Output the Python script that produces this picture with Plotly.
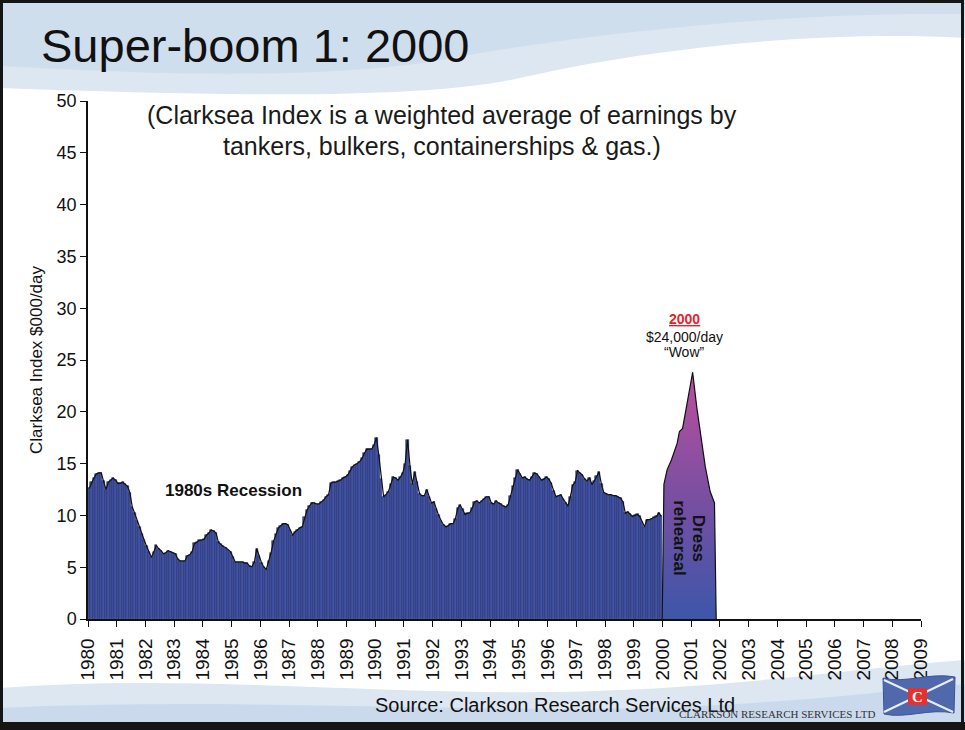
import plotly.graph_objects as go

# Clarksea Index, $000/day, monthly Jan 1980 - Dec 1999
clarksea_1980s = [
    12.6, 13.2, 13.6, 14.0, 14.1, 14.1, 13.3, 12.5, 13.2, 13.4, 13.6, 13.4,   # 1980
    13.1, 13.1, 13.2, 13.0, 12.8, 12.2, 10.8, 10.2, 9.5, 8.9, 8.2, 7.6,       # 1981
    7.0, 6.5, 5.95, 6.5, 7.1, 6.8, 6.6, 6.3, 6.4, 6.6, 6.5, 6.4,              # 1982
    6.3, 5.8, 5.6, 5.6, 5.6, 6.1, 6.2, 6.5, 7.3, 7.4, 7.6, 7.6,               # 1983
    7.7, 8.1, 8.3, 8.6, 8.5, 8.3, 7.4, 7.2, 7.0, 6.9, 6.7, 6.5,               # 1984
    6.0, 5.5, 5.5, 5.5, 5.5, 5.4, 5.4, 5.1, 5.05, 5.5, 6.8, 6.1,              # 1985
    5.4, 5.0, 4.8, 5.6, 6.4, 7.5, 8.2, 8.75, 9.0, 9.2, 9.2, 9.1,              # 1986
    8.6, 8.1, 8.4, 8.6, 8.8, 8.9, 9.8, 10.5, 10.9, 11.2, 11.2, 11.1,          # 1987
    11.1, 11.3, 11.5, 11.8, 12.0, 13.1, 13.2, 13.2, 13.3, 13.4, 13.6, 13.7,   # 1988
    13.9, 14.3, 14.7, 14.9, 15.0, 15.2, 15.5, 16.0, 16.4, 16.4, 16.4, 16.8,   # 1989
]
clarksea_1990s = [
    17.5, 15.8, 13.5, 11.8, 12.0, 12.3, 13.0, 13.7, 13.6, 13.4, 13.7, 14.1,   # 1990
    15.0, 17.3, 14.8, 13.0, 14.2, 13.2, 12.1, 11.9, 11.9, 12.5, 11.8, 11.2,   # 1991
    11.3, 10.6, 10.0, 9.5, 9.1, 8.9, 9.0, 9.2, 9.2, 9.7, 10.7, 11.0,          # 1992
    10.6, 10.1, 10.2, 10.25, 10.7, 11.3, 11.4, 11.2, 11.4, 11.6, 11.8, 11.8,  # 1993
    11.2, 11.1, 11.4, 11.2, 11.1, 10.9, 10.8, 11.0, 11.9, 12.8, 13.6, 14.4,   # 1994
    14.0, 13.6, 13.7, 13.5, 13.4, 13.7, 14.1, 14.0, 13.7, 13.4, 13.5, 13.7,   # 1995
    13.5, 13.1, 12.4, 11.8, 11.9, 12.0, 11.6, 11.2, 10.9, 11.8, 12.9, 13.2,   # 1996
    14.3, 14.1, 13.9, 13.5, 13.35, 13.6, 13.0, 13.3, 13.8, 14.2, 13.0, 12.2,  # 1997
    12.1, 12.0, 12.0, 11.9, 11.9, 11.8, 11.65, 11.3, 10.2, 10.35, 10.1, 9.9,  # 1998
    10.0, 10.1, 9.9, 9.4, 8.9, 9.6, 9.6, 9.7, 9.8, 9.9, 10.25, 9.9,           # 1999
]

# 2000-2001 boom ("dress rehearsal"), decimal year vs $000/day
boom_years = [1999.99, 2000.05, 2000.16, 2000.31, 2000.51, 2000.59, 2000.70, 2000.82,
              2000.94, 2001.05, 2001.20, 2001.35, 2001.49, 2001.66, 2001.81, 2001.87]
boom_values = [0, 13.0, 14.4, 15.35, 16.95, 18.1, 18.4, 20.2,
               22.1, 23.8, 20.3, 17.3, 14.7, 12.3, 11.2, 0]

year_ticks = list(range(1980, 2010))
year_labels = [str(y) for y in year_ticks]

peak_year_label = "2000"
peak_rate_label = "$24,000/day"
peak_comment = "\u201cWow\u201d"

FONT = "Liberation Sans, Arial, sans-serif"

values = clarksea_1980s + clarksea_1990s
month_x = [1980 + (i + 0.5) / 12 for i in range(len(values))]

fig = go.Figure()

# monthly bars (striped look)
fig.add_trace(go.Bar(
    x=month_x, y=values, width=1 / 12,
    marker=dict(color="#4053A6", line=dict(color="#232B68", width=0.6)),
    hoverinfo="skip", showlegend=False,
))
# black outline along the top of the bars
fig.add_trace(go.Scatter(
    x=month_x, y=values, mode="lines",
    line=dict(color="#111111", width=1.2),
    hoverinfo="skip", showlegend=False,
))
# 2000-01 boom, gradient filled
fig.add_trace(go.Scatter(
    x=boom_years, y=boom_values, mode="lines", fill="toself",
    fillgradient=dict(type="vertical",
                      colorscale=[[0, "#3C56A9"], [0.5, "#7A4FA1"], [1, "#BB4F9D"]]),
    line=dict(color="#111111", width=1.2),
    hoverinfo="skip", showlegend=False,
))

# page geometry helpers (pixel -> paper)
L, R, T, B = 88, 44, 101, 111
W, H = 965, 730
PW, PH = W - L - R, H - T - B


def px(x):
    return (x - L) / PW


def py(y):
    return (H - B - y) / PH


shapes = []
# header band
shapes.append(dict(
    type="path", xref="paper", yref="paper", layer="below", line=dict(width=0),
    fillcolor="#DCE7F2",
    path=(f"M {px(0)},{py(0)} L {px(965)},{py(0)} L {px(965)},{py(38)} "
          f"C {px(820)},{py(30)} {px(650)},{py(48)} {px(520)},{py(78)} "
          f"C {px(420)},{py(100)} {px(230)},{py(96)} {px(0)},{py(88)} Z"),
))
shapes.append(dict(
    type="path", xref="paper", yref="paper", layer="below", line=dict(width=0),
    fillcolor="rgba(196,215,234,0.55)",
    path=(f"M {px(0)},{py(0)} L {px(965)},{py(0)} L {px(965)},{py(14)} "
          f"C {px(800)},{py(12)} {px(600)},{py(30)} {px(430)},{py(62)} "
          f"C {px(300)},{py(80)} {px(150)},{py(74)} {px(0)},{py(66)} Z"),
))
# footer band
shapes.append(dict(
    type="path", xref="paper", yref="paper", layer="below", line=dict(width=0),
    fillcolor="#DCE7F2",
    path=(f"M {px(0)},{py(730)} L {px(0)},{py(688)} "
          f"C {px(200)},{py(672)} {px(420)},{py(700)} {px(620)},{py(690)} "
          f"C {px(760)},{py(684)} {px(860)},{py(668)} {px(965)},{py(660)} "
          f"L {px(965)},{py(730)} Z"),
))
shapes.append(dict(
    type="path", xref="paper", yref="paper", layer="below", line=dict(width=0),
    fillcolor="rgba(190,210,232,0.6)",
    path=(f"M {px(0)},{py(730)} L {px(0)},{py(708)} "
          f"C {px(250)},{py(696)} {px(500)},{py(716)} {px(700)},{py(706)} "
          f"C {px(820)},{py(700)} {px(900)},{py(690)} {px(965)},{py(684)} "
          f"L {px(965)},{py(730)} Z"),
))
# logo flag
shapes.append(dict(
    type="path", xref="paper", yref="paper", line=dict(color="#3C5398", width=1),
    fillcolor="#5069AD",
    path=(f"M {px(883)},{py(678)} C {px(905)},{py(684)} {px(930)},{py(672)} {px(955)},{py(677)} "
          f"L {px(954)},{py(713)} C {px(930)},{py(708)} {px(905)},{py(719)} {px(884)},{py(714)} Z"),
))
shapes.append(dict(type="line", xref="paper", yref="paper",
                   x0=px(884), y0=py(680), x1=px(953), y1=py(712),
                   line=dict(color="#E8EEF8", width=2)))
shapes.append(dict(type="line", xref="paper", yref="paper",
                   x0=px(884), y0=py(712), x1=px(953), y1=py(679),
                   line=dict(color="#E8EEF8", width=2)))
shapes.append(dict(type="rect", xref="paper", yref="paper",
                   x0=px(908), y0=py(705), x1=px(927), y1=py(688),
                   fillcolor="#E5322D", line=dict(width=0)))
# slide frame
shapes.append(dict(type="rect", xref="paper", yref="paper",
                   x0=px(1.5), y0=py(724), x1=px(962.5), y1=py(1.5),
                   line=dict(color="#151515", width=3)))
shapes.append(dict(type="rect", xref="paper", yref="paper",
                   x0=px(0), y0=py(730), x1=px(965), y1=py(722),
                   fillcolor="#151515", line=dict(width=0)))


def note(text, x, y, size, color="#111111", family=FONT, paper=False, **kw):
    ann = dict(text=text, x=x, y=y, showarrow=False, xanchor=kw.pop("xanchor", "center"),
               yanchor="middle", font=dict(family=family, size=size, color=color))
    if paper:
        ann.update(xref="paper", yref="paper")
    ann.update(kw)
    return ann


annotations = [
    note("Super-boom 1: 2000", px(39), py(45), 47, paper=True, xanchor="left"),
    note("(Clarksea Index is a weighted average of earnings by", px(442), py(115), 25,
         color="#1a1a1a", paper=True),
    note("tankers, bulkers, containerships &amp; gas.)", px(442), py(146), 25,
         color="#1a1a1a", paper=True),
    note("<b>1980s Recession</b>", 1985.06, 12.45, 17),
    note(f"<b><u>{peak_year_label}</u></b>", 2000.78, 28.96, 14, color="#E3252A"),
    note(peak_rate_label, 2000.78, 27.22, 14),
    note(peak_comment, 2000.78, 25.77, 14),
    note("<b>Dress</b>", 2001.25, 7.8, 17, textangle=90),
    note("<b>rehearsal</b>", 2000.61, 7.8, 17, textangle=90),
    note("Source: Clarkson Research Services Ltd", px(555), py(705), 20, paper=True),
    note("CLARKSON RESEARCH SERVICES LTD", px(777), py(714), 11, color="#333333",
         family="Liberation Serif, Times New Roman, serif", paper=True),
    note("<b>C</b>", px(917.5), py(696.5), 15, color="#FFFFFF",
         family="Liberation Serif, Times New Roman, serif", paper=True),
]

fig.update_layout(
    width=W, height=H,
    margin=dict(l=L, r=R, t=T, b=B, pad=0),
    paper_bgcolor="#FFFFFF",
    plot_bgcolor="rgba(0,0,0,0)",
    bargap=0,
    showlegend=False,
    shapes=shapes,
    annotations=annotations,
    font=dict(family=FONT, color="#111111"),
    xaxis=dict(
        range=[1980, 2009], tickmode="array", tickvals=year_ticks, ticktext=year_labels,
        tickangle=-90, ticks="outside", ticklen=6, tickcolor="#111111",
        ticklabelstandoff=4,
        showline=True, linecolor="#111111", linewidth=1.5,
        showgrid=False, zeroline=False,
        tickfont=dict(family=FONT, size=19, color="#111111"),
    ),
    yaxis=dict(
        range=[0, 50], dtick=5, ticks="outside", ticklen=6, tickcolor="#111111",
        showline=True, linecolor="#111111", linewidth=1.5,
        showgrid=False, zeroline=False,
        tickfont=dict(family=FONT, size=18, color="#111111"),
        title=dict(text="Clarksea Index $000/day", standoff=10,
                   font=dict(family=FONT, size=17, color="#111111")),
    ),
)

fig.write_html("out.html")
